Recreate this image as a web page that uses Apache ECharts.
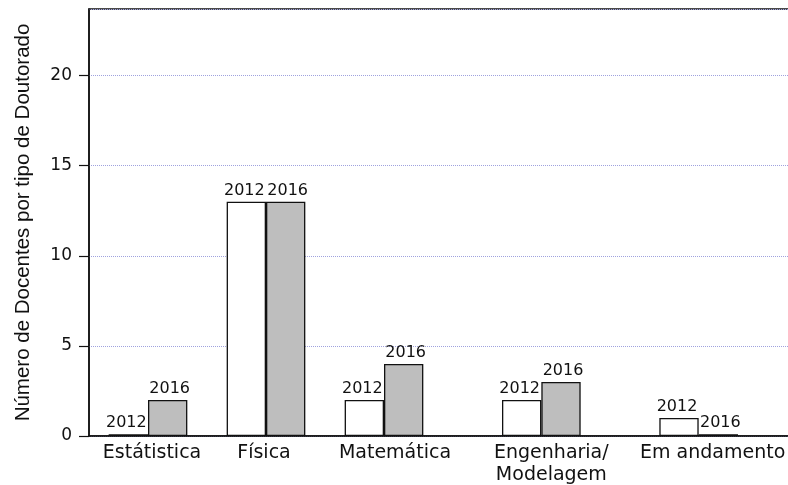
<!DOCTYPE html>
<html><head><meta charset="utf-8">
<script src="https://cdn.jsdelivr.net/npm/echarts@6/dist/echarts.min.js"></script>
<style>html,body{margin:0;padding:0;background:#fff}#c{width:788px;height:485px}</style>
</head><body><div id="c"></div>
<script>
const categories = ['Estátistica', 'Física', 'Matemática', 'Engenharia/\nModelagem', 'Em andamento'];
const values2012 = [0.1, 13, 2, 2, 1];
const values2016 = [2, 13, 4, 3, 0.1];
const seriesNames = ['2012', '2016'];
const yTicks = [0, 5, 10, 15, 20];

// layout: slot index of each group on an 18-slot band axis, and label paddings
const groupSlots = [1, 4, 7, 11, 15];
const labelPads = [[0, 0, 0, 8], [0, 4, 0, 0], [0, 0, 0, 22], [0, 0, 0, 20], [0, 0, 0, 28]];
const nSlots = 18;

const slotLabels = new Array(nSlots).fill('');
const s2012 = new Array(nSlots).fill('-');
const s2016 = new Array(nSlots).fill('-');
groupSlots.forEach((s, i) => {
  slotLabels[s] = { value: categories[i], textStyle: { padding: labelPads[i] } };
  s2012[s] = values2012[i];
  s2016[s] = values2016[i];
});

const font = 'DejaVu Sans, Liberation Sans, Arial, sans-serif';
const chart = echarts.init(document.getElementById('c'));
const labelStyle = (dx) => ({ show: true, position: 'top', distance: 3, offset: [dx, 0], formatter: p => p.seriesName, color: '#111', fontSize: 16, fontFamily: font });
chart.setOption({
  animation: false,
  grid: { left: 89, top: 9, bottom: 49, right: -9, outerBoundsMode: 'none', containLabel: false,
    show: true, borderColor: '#111', borderWidth: 1.5, backgroundColor: 'transparent' },
  xAxis: {
    type: 'category', data: slotLabels, boundaryGap: true,
    axisLine: { lineStyle: { color: '#111', width: 1.5 } },
    axisTick: { show: false },
    axisLabel: { interval: 0, color: '#111', fontSize: 19, fontFamily: font, margin: 6, lineHeight: 22 }
  },
  yAxis: {
    type: 'value', min: 0, max: 23.7, interval: 5,
    name: 'Número de Docentes por tipo de Doutorado', nameLocation: 'middle', nameGap: 55,
    nameTextStyle: { color: '#111', fontSize: 20.5, fontFamily: 'Liberation Sans, Arial, sans-serif' },
    axisLine: { show: true, lineStyle: { color: '#111', width: 1.5 } },
    axisTick: { show: true, length: 10, lineStyle: { color: '#111', width: 1.2 } },
    axisLabel: { color: '#111', fontSize: 17, fontFamily: font, margin: 17, showMaxLabel: false,
      formatter: v => (yTicks.includes(v) ? String(v) : '') },
    splitLine: { show: true, lineStyle: { color: '#9fa2de', type: 'dotted', width: 1 } }
  },
  series: [
    { name: seriesNames[0], type: 'bar', data: s2012, barWidth: '100%', barGap: '0%',
      itemStyle: { color: '#ffffff', borderColor: '#111', borderWidth: 1.3 }, label: labelStyle(-2) },
    { name: seriesNames[1], type: 'bar', data: s2016, barWidth: '100%', barGap: '0%',
      itemStyle: { color: '#bebebe', borderColor: '#111', borderWidth: 1.3 }, label: labelStyle(2) }
  ]
});
</script></body></html>
